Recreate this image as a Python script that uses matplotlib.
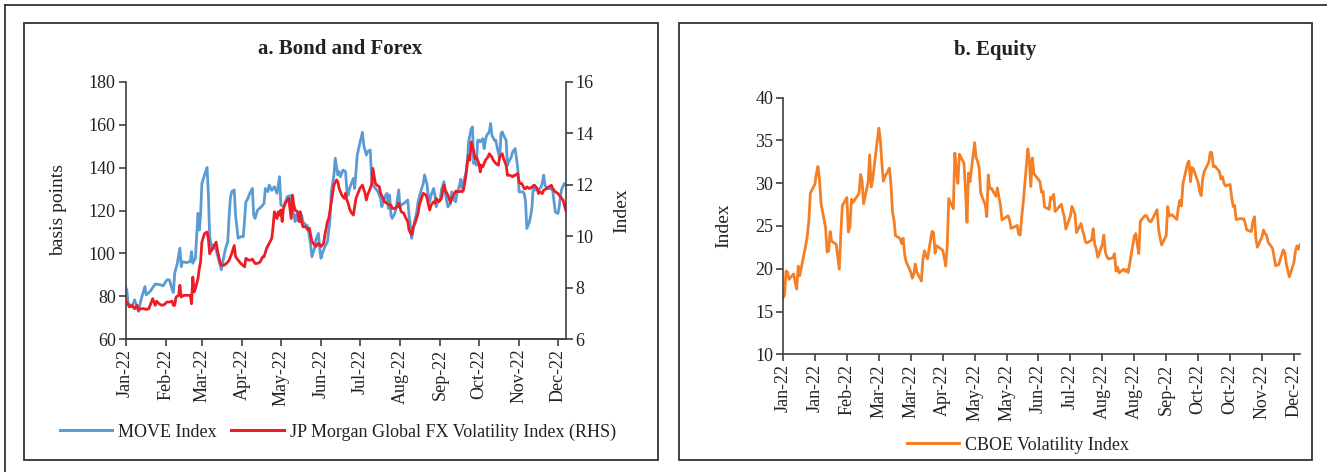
import numpy as np
import pandas as pd
import matplotlib
matplotlib.use("Agg")
import matplotlib.pyplot as plt
from matplotlib.patches import Rectangle
from matplotlib.lines import Line2D
import matplotlib.dates as mdates

plt.rcParams['font.family'] = ['Liberation Serif', 'DejaVu Serif']

# ---------------- Data ----------------
# Panel a: day-of-year 2022 and values
move_day = [3,4,5,8,10,13,15,18,19,22,26,30,32,35,37,39,40,41,43,45,46,47,50,53,54,55,57,59,60,61,62,64,66,67,68,70,71,73,75,77,78,80,
            82,83,84,85,87,88,90,92,94,96,97,99,101,102,103,105,108,110,111,113,114,116,118,120,122,123,125,126,128,130,131,132,134,135,
            136,138,139,140,142,143,144,146,147,149,150,152,153,154,155,157,159,161,162,164,165,
            167,168,169,171,173,174,175,176,178,179,180,181,182,184,186,187,189,190,192,193,194,196,198,200,201,202,204,205,206,207,208,
            209,211,212,214,215,216,218,220,221,222,223,224,225,226,228,229,231,233,234,236,237,238,239,241,242,243,244,246,247,249,
            250,252,253,254,255,257,258,259,261,262,263,264,266,267,268,270,271,272,273,274,275,276,277,279,280,281,282,284,285,286,
            288,289,290,292,293,294,295,297,298,299,301,302,303,304,306,307,308,310,311,312,313,315,316,317,318,319,321,322,324,325,
            326,327,329,331,333,334,335,337,338,339,340,342,343]
move_value = [84.2,83,76.7,75,78.3,72.9,78.3,84.5,80.6,82.2,85.7,85.3,84.8,87.6,87.6,83,81.7,90.7,95.4,102.4,93.8,96.1,95.7,96.1,100.8,95.4,97.7,
              118.7,110.9,117.9,132.6,136.5,140.1,128,107.8,101.6,103.9,101.6,96.9,92.3,95.4,101.6,
              105.5,117,125.7,128.8,129.6,117.9,107,107.8,107.8,124.1,124.9,128,130.3,117.9,116.3,120.2,121.8,123.3,130.3,128.8,131.9,129.4,
              131.1,128,135.8,122.6,121.8,123.3,126.5,126.9,119.5,121,114.8,117.9,118.7,114.8,117.9,114.8,113.2,113.2,111.7,103.9,98.4,
              102.3,106.2,109.3,102.3,97.7,100,103.1,105.4,116.3,128.8,136.6,144.4,
              136.6,138.1,135.8,138.9,138.1,128.8,127.2,130.3,133.5,135,130.3,138.1,145.9,151.4,156.5,150.6,145.9,147.5,148.2,136.6,131.9,
              130.3,128.8,125.7,121.8,124.1,127.2,128,121,127.2,117.9,116.3,118.7,121,129.6,121.8,122.6,123.3,124.4,124.9,117.9,113.2,107,
              110.1,114,119.5,124.1,128.8,132.7,136.6,131.9,124.9,124.1,127.2,130.3,127.2,121.8,124.1,124.9,129.6,133.5,
              127.9,121.7,122.5,123.2,128.7,124.8,124,127.9,131.8,134.6,130.2,132.6,138,142.7,152,158.2,159,141.9,145.8,141.1,152.8,152.8,
              152,153.6,148.9,152.8,155.1,156.7,160.6,155.1,152.8,152.8,149.7,144.2,155.9,156.7,155.1,152.8,141.1,142.7,145,147.3,148.1,
              148.9,139.6,128.7,128.7,128.7,127.9,124,111.6,114.7,117.8,121.7,131.8,129.5,130.2,129.5,131,133.3,136.5,131.8,130.2,130.2,
              129.5,124,119.3,118.6,121.7,127.1,130.2,132.6,131.8]

fx_day = [3,4,6,8,10,12,13,15,17,19,21,22,24,26,27,29,31,33,35,37,39,40,41,42,44,45,46,48,50,51,53,54,55,56,57,59,60,61,62,64,66,67,68,
          70,71,73,74,76,77,79,81,83,85,87,88,90,92,95,96,98,100,101,103,105,107,109,110,112,114,116,117,118,120,121,122,123,124,125,
          127,129,130,131,132,133,134,136,137,138,139,140,142,144,145,147,149,150,152,154,156,157,159,160,162,164,166,167,168,170,
          172,173,174,175,176,177,179,180,181,183,184,186,188,189,190,192,193,194,196,197,199,200,202,203,205,207,208,209,211,213,
          214,216,218,219,221,222,224,225,227,229,230,232,233,235,236,237,238,239,241,242,243,245,247,248,249,
          250,252,254,255,257,258,260,262,263,264,266,267,268,269,270,272,273,274,276,277,278,279,280,281,283,284,286,287,289,291,
          292,294,295,297,298,300,302,303,304,306,307,308,309,311,312,313,315,317,319,321,322,323,325,326,328,330,332,333,335,337,
          339,341,343]
fx_value = [7.5,7.44,7.25,7.31,7.18,7.31,7.12,7.18,7.18,7.15,7.18,7.31,7.57,7.31,7.47,7.37,7.31,7.34,7.44,7.44,7.47,7.31,7.31,7.63,7.7,
            8.09,7.63,7.7,7.7,7.7,7.7,7.37,8.41,7.83,7.96,8.35,8.74,9.0,9.77,10.1,10.16,9.9,9.32,9.51,9.58,9.77,9.45,9.0,8.87,8.87,
            8.94,9.06,9.32,9.64,9.2,9.07,8.94,8.81,9.14,9.07,9.07,9.11,8.94,8.94,9.0,9.2,9.2,9.53,9.72,9.92,10.37,10.95,10.69,10.95,
            10.82,11.02,10.57,11.08,11.34,11.47,11.08,10.69,11.6,11.21,11.02,10.95,10.57,10.95,10.57,10.37,10.37,10.24,10.31,9.79,
            9.66,9.6,9.72,9.6,9.72,10.05,10.57,10.69,11.34,11.99,12.19,12.12,11.86,11.6,
            11.47,11.67,11.41,11.28,11.08,10.95,10.82,11.15,11.47,11.73,11.86,11.99,11.67,11.41,11.6,11.86,11.99,12.64,12.06,11.99,
            11.93,11.67,11.47,11.34,11.28,11.21,11.21,11.08,11.08,11.15,11.28,10.95,10.89,10.76,10.57,10.24,10.05,10.31,10.57,10.89,
            11.21,11.54,11.67,11.6,11.47,11.21,11.02,11.21,11.34,11.28,11.47,11.34,11.47,11.73,11.99,
            11.79,11.6,11.31,11.47,11.66,11.75,11.73,11.75,11.73,11.79,12.37,12.83,13.15,12.96,13.67,13.28,13.02,13.08,12.83,12.5,
            12.76,12.7,12.83,12.96,13.08,13.21,13.08,12.96,12.83,12.76,13.08,13.21,13.02,12.76,12.37,12.37,12.31,12.37,12.37,12.44,
            12.11,12.05,12.05,11.85,11.85,11.92,11.85,11.92,11.98,11.85,11.66,11.73,11.66,11.79,11.85,11.92,11.98,11.85,11.73,11.66,
            11.53,11.4,11.01]

# Panel b: CBOE VIX daily close, by month (trading days 3 Jan - 9 Dec 2022)
vix_jan = [16.60,16.91,19.73,19.61,18.76,19.40,18.41,17.62,20.31,19.19,22.79,23.85,25.59,28.85,29.90,31.16,31.96,30.49,27.66,24.83]
vix_feb = [21.96,22.09,24.35,23.22,22.86,21.44,19.96,23.91,27.36,28.33,24.29,24.88,28.11,27.75,28.81,31.02,30.32,27.59,30.15]
vix_mar = [33.32,29.57,30.48,31.98,36.45,35.13,32.45,30.23,30.75,31.77,29.83,26.67,25.67,23.87,23.53,22.94,23.57,21.67,20.81,
           19.63,18.90,19.33,20.56]
vix_apr = [19.63,18.57,21.03,22.10,21.55,21.16,24.37,24.26,21.82,22.70,22.17,21.37,20.32,22.68,28.21,27.02,33.52,31.60,29.99,33.40]
vix_may = [32.34,29.25,25.42,31.20,30.19,34.75,32.99,32.56,31.77,28.87,27.47,26.10,30.96,29.35,29.43,28.48,29.45,28.37,27.50,
           25.72,26.19]
vix_jun = [25.69,24.72,24.79,25.07,24.02,23.96,26.09,27.75,34.02,32.69,29.62,32.95,31.13,30.19,28.95,29.05,27.23,26.95,28.36,
           28.16,28.71]
vix_jul = [26.70,27.54,26.73,26.08,24.64,26.17,27.29,26.82,26.40,24.23,25.30,24.50,23.88,23.11,23.03,23.36,24.69,22.84,22.33,21.33]
vix_aug = [22.84,23.93,21.95,21.44,21.15,21.29,21.77,19.74,20.20,19.53,19.95,19.69,19.90,19.56,20.60,23.80,24.11,22.82,21.78,
           25.56,26.21,26.21,25.87]
vix_sep = [25.56,25.47,26.91,24.64,23.61,22.79,23.87,27.27,26.16,26.27,26.30,25.76,27.16,27.99,27.35,29.92,32.26,32.60,30.18,
           31.84,31.62]
vix_oct = [30.10,29.07,28.55,30.52,31.36,32.45,33.63,33.57,31.94,32.02,31.37,30.50,30.76,29.98,29.69,29.85,28.46,27.28,27.39,
           25.75,25.88]
vix_nov = [25.81,25.86,25.30,24.55,24.35,25.54,26.09,23.53,22.52,23.73,24.54,24.11,23.93,23.12,22.36,21.35,20.35,20.50,22.21,
           21.89,20.58]
vix_dec = [19.84,19.06,20.75,22.01,22.68,22.29,22.83]
market_holidays = ['2022-01-17', '2022-02-21', '2022-04-15', '2022-05-30', '2022-06-20', '2022-07-04', '2022-09-05', '2022-11-24']

series_labels = ['MOVE Index', 'JP Morgan Global FX Volatility Index (RHS)', 'CBOE Volatility Index']
panel_titles = ['a. Bond and Forex', 'b. Equity']

# ---------------- Build dates ----------------
base = pd.Timestamp('2022-01-01')
move_dates = base + pd.to_timedelta(np.array(move_day) - 1, unit='D')
fx_dates = base + pd.to_timedelta(np.array(fx_day) - 1, unit='D')
bd = pd.bdate_range('2022-01-03', '2022-12-09')
bd = bd[~bd.isin(pd.to_datetime(market_holidays))]
vix_value = (vix_jan + vix_feb + vix_mar + vix_apr + vix_may + vix_jun + vix_jul + vix_aug +
             vix_sep + vix_oct + vix_nov + vix_dec)
vix_dates = bd[:len(vix_value)]

start, end = pd.Timestamp('2022-01-03'), pd.Timestamp('2022-12-09')
ticks_a = [pd.Timestamp(2022, m, 3) for m in range(1, 13)]
ticks_b = pd.date_range('2022-01-03', periods=17, freq='21D')

# ---------------- Figure ----------------
W, H = 1327, 472
fig = plt.figure(figsize=(W / 100, H / 100), dpi=100)

BLUE = '#5B9BD5'
RED = '#EE1D25'
ORANGE = '#F47F24'
AXC = '#404040'
TXT = '#222222'
FS = 13

def fx(px):
    return px / W

def fy(py):
    return 1 - py / H

# panel frames and outer frame
for x0, x1 in [(24, 658), (679, 1312)]:
    fig.add_artist(Rectangle((fx(x0), fy(460)), fx(x1) - fx(x0), fy(23) - fy(460),
                             transform=fig.transFigure, fill=False, ec='#333333', lw=1.3))
fig.add_artist(Line2D([fx(4.5), 1], [fy(5), fy(5)], transform=fig.transFigure, color='#333333', lw=1.3))
fig.add_artist(Line2D([fx(4.5), fx(4.5)], [0, fy(5)], transform=fig.transFigure, color='#333333', lw=1.3))

def style_axis(ax):
    for s in ax.spines.values():
        s.set_color(AXC)
        s.set_linewidth(1.2)
    ax.spines['top'].set_visible(False)
    ax.tick_params(axis='both', direction='out', length=5, width=1.2, color=AXC,
                   labelsize=FS, labelcolor=TXT, pad=2)

# ---- Panel a ----
axa = fig.add_axes([fx(125.5), fy(339), fx(565.7) - fx(125.5), fy(82) - fy(339)])
axa.plot(move_dates, move_value, color=BLUE, lw=2.0, solid_joinstyle='round')
axa.set_ylim(60, 180)
axa.set_yticks(np.arange(60, 181, 20))
axa.set_xlim(start, end)
axa.set_xticks(ticks_a)
axa.xaxis.set_major_formatter(mdates.DateFormatter('%b-%y'))
style_axis(axa)
axa.spines['right'].set_visible(False)
for lab in axa.get_xticklabels():
    lab.set_rotation(90)
axa.set_ylabel('basis points', fontsize=FS + 1, color=TXT)
axa.yaxis.set_label_coords(-0.132, 0.5)

axa2 = axa.twinx()
axa2.plot(fx_dates, fx_value, color=RED, lw=2.0, solid_joinstyle='round')
axa2.set_ylim(6, 16)
axa2.set_yticks(np.arange(6, 17, 2))
style_axis(axa2)
axa2.spines['left'].set_visible(False)
axa2.set_ylabel('Index', fontsize=FS + 1, color=TXT)
axa2.yaxis.set_label_coords(1.109, 0.5)

fig.text(fx(340), fy(49), panel_titles[0], ha='center', va='center', fontsize=15, fontweight='bold', color=TXT)
handles_a = [Line2D([], [], color=BLUE, lw=2.2), Line2D([], [], color=RED, lw=2.2)]
fig.legend(handles_a, series_labels[:2], loc='center', bbox_to_anchor=(fx(338), fy(432)), ncol=2,
           frameon=False, fontsize=FS, handlelength=2.9, handletextpad=0.35, columnspacing=0.8,
           labelcolor=TXT, borderaxespad=0)

# ---- Panel b ----
axb = fig.add_axes([fx(783), fy(354.3), fx(1300) - fx(783), fy(97.7) - fy(354.3)])
axb.plot(vix_dates, vix_value, color=ORANGE, lw=2.0, solid_joinstyle='round')
axb.set_ylim(10, 40)
axb.set_yticks(np.arange(10, 41, 5))
axb.set_xlim(start, end)
axb.set_xticks(ticks_b)
axb.xaxis.set_major_formatter(mdates.DateFormatter('%b-%y'))
style_axis(axb)
axb.spines['right'].set_visible(False)
for lab in axb.get_xticklabels():
    lab.set_rotation(90)
axb.set_ylabel('Index', fontsize=FS + 1, color=TXT)
axb.yaxis.set_label_coords(-0.099, 0.5)

fig.text(fx(995), fy(50), panel_titles[1], ha='center', va='center', fontsize=15, fontweight='bold', color=TXT)
fig.legend([Line2D([], [], color=ORANGE, lw=2.2)], [series_labels[2]], loc='center',
           bbox_to_anchor=(fx(1018), fy(445)), frameon=False, fontsize=FS, handlelength=2.9,
           handletextpad=0.35, labelcolor=TXT, borderaxespad=0)

fig.savefig('out.png', dpi=100)
